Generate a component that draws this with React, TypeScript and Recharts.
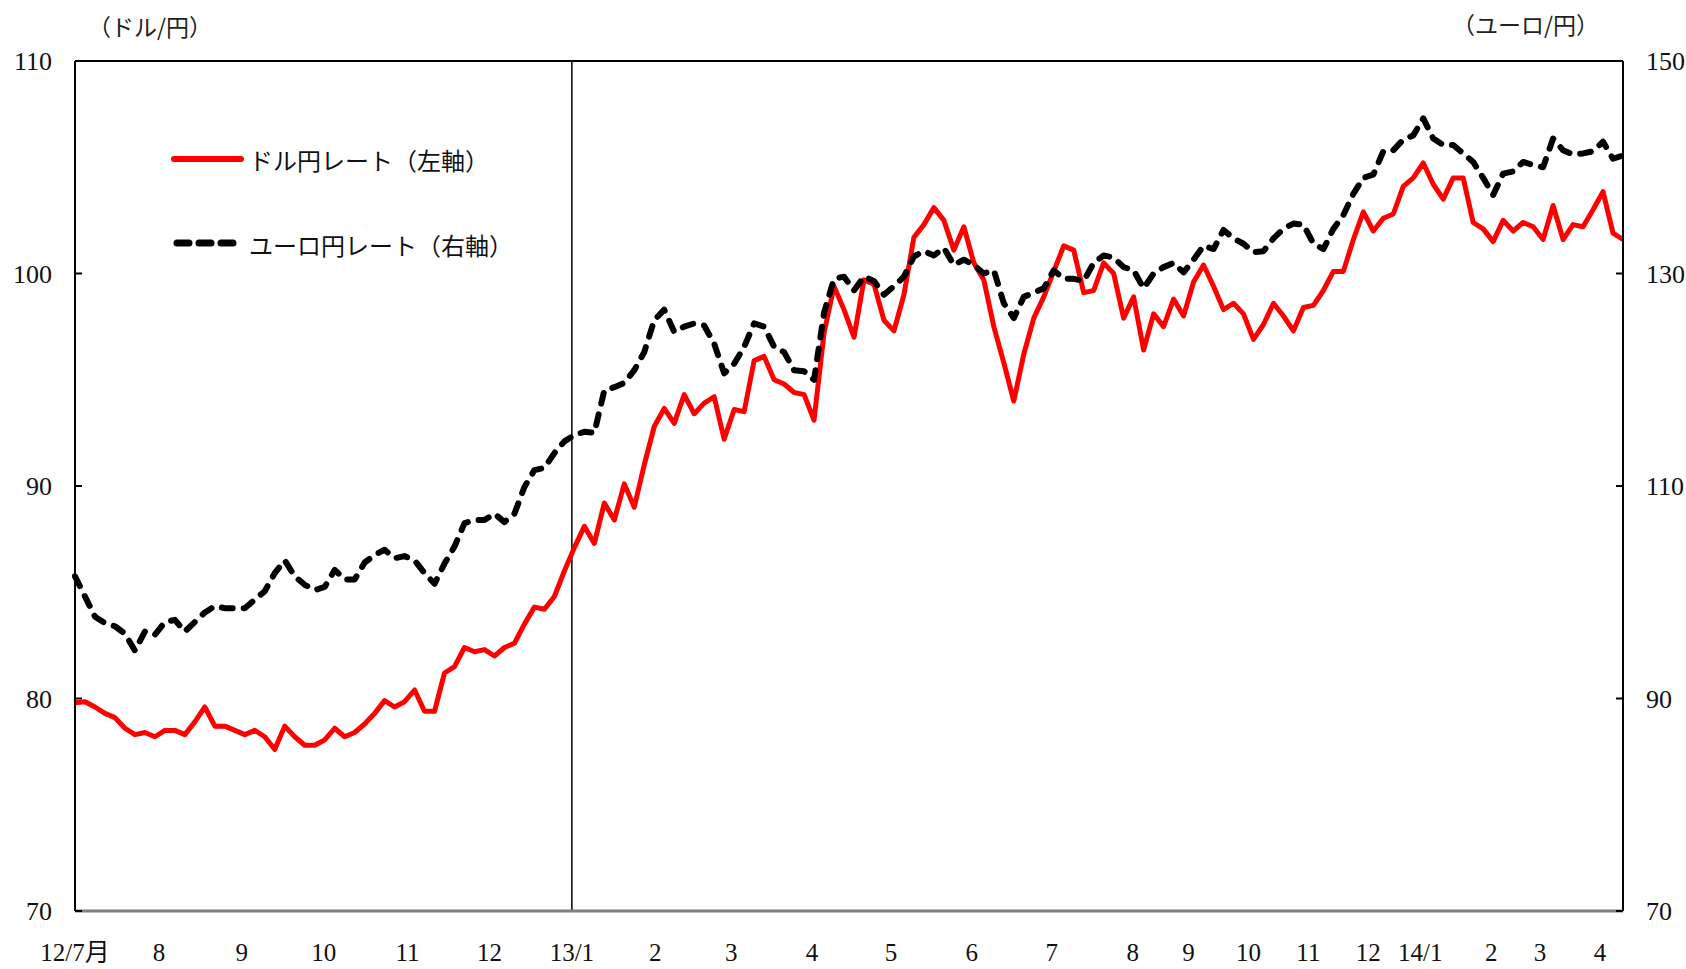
import React from 'react';
import { LineChart, Line, XAxis, YAxis, ReferenceLine } from 'recharts';

// ドル円レート（左軸） sampled evenly across the period
const usdJpy = [
  79.8, 79.85, 79.6, 79.3, 79.1, 78.6, 78.3, 78.4, 78.2, 78.5,
  78.5, 78.3, 78.9, 79.6, 78.7, 78.7, 78.5, 78.3, 78.5, 78.2,
  77.6, 78.7, 78.2, 77.8, 77.8, 78.05, 78.6, 78.2, 78.4, 78.8,
  79.3, 79.9, 79.6, 79.85, 80.4, 79.4, 79.4, 81.2, 81.5, 82.4,
  82.2, 82.3, 82.0, 82.4, 82.6, 83.5, 84.3, 84.2, 84.8, 86.0,
  87.1, 88.1, 87.3, 89.2, 88.4, 90.1, 89.0, 91.0, 92.8, 93.65,
  92.95, 94.3, 93.4, 93.9, 94.2, 92.2, 93.6, 93.5, 95.9, 96.1,
  95.0, 94.8, 94.4, 94.3, 93.1, 97.2, 99.4, 98.3, 97.0, 99.7,
  99.5, 97.8, 97.3, 99.0, 101.7, 102.3, 103.1, 102.5, 101.1, 102.2,
  100.5, 99.7, 97.5, 95.8, 94.0, 96.2, 97.9, 98.9, 100.1, 101.3,
  101.1, 99.1, 99.2, 100.5, 100.0, 97.9, 98.9, 96.4, 98.1, 97.5,
  98.8, 98.0, 99.6, 100.4, 99.4, 98.3, 98.6, 98.1, 96.9, 97.6,
  98.6, 98.0, 97.3, 98.4, 98.5, 99.2, 100.1, 100.1, 101.6, 102.9,
  102.0, 102.6, 102.8, 104.1, 104.5, 105.2, 104.2, 103.5, 104.5, 104.5,
  102.4, 102.1, 101.5, 102.5, 102.0, 102.4, 102.2, 101.6, 103.2, 101.6,
  102.3, 102.2, 103.0, 103.85, 101.9, 101.6,
];

// ユーロ円レート（右軸）
const eurJpy = [
  101.5, 99.6, 97.7, 97.1, 96.8, 96.1, 94.5, 96.3, 96.0, 97.2,
  97.4, 96.3, 97.2, 98.1, 98.7, 98.5, 98.5, 98.5, 99.3, 100.1,
  101.8, 103.0, 101.5, 100.7, 100.2, 100.5, 102.1, 101.2, 101.2, 102.8,
  103.5, 104.0, 103.2, 103.4, 103.0, 101.8, 100.8, 102.7, 104.3, 106.5,
  106.8, 106.8, 107.4, 106.6, 107.4, 109.9, 111.5, 111.7, 113.1, 114.2,
  114.8, 115.1, 115.0, 119.0, 119.3, 119.7, 120.9, 122.6, 125.6, 126.6,
  124.5, 125.0, 125.3, 125.1, 123.4, 120.6, 121.5, 123.1, 125.3, 125.0,
  123.1, 122.6, 120.9, 120.8, 120.0, 126.3, 129.5, 129.7, 128.4, 129.7,
  129.3, 128.0, 128.8, 129.7, 131.6, 132.1, 131.7, 132.4, 130.8, 131.3,
  130.8, 130.0, 130.3, 127.2, 125.8, 127.8, 128.2, 128.6, 130.3, 129.5,
  129.5, 129.3, 131.0, 131.7, 131.5, 130.6, 130.3, 128.6, 130.0, 130.6,
  131.0, 130.1, 131.3, 132.6, 132.3, 134.1, 133.3, 132.8, 132.0, 132.1,
  133.3, 134.2, 134.7, 134.6, 132.8, 132.3, 134.2, 135.5, 137.5, 139.0,
  139.3, 141.5, 141.6, 142.6, 143.0, 144.6, 142.7, 142.1, 142.1, 141.3,
  140.5, 139.0, 137.4, 139.4, 139.6, 140.5, 140.2, 140.0, 142.7, 141.6,
  141.2, 141.3, 141.5, 142.4, 140.8, 141.1,
];

// month label positions (in sample-index units) and texts
const monthTickPos = [0, 8.4, 16.7, 24.9, 33.3, 41.5, 49.75, 58.1, 65.7, 73.8, 81.7, 89.8, 97.8, 105.9, 111.5, 117.5, 123.5, 129.5, 134.7, 141.8, 146.7, 152.7];
const monthTickLabels = ['12/7月', '8', '9', '10', '11', '12', '13/1', '2', '3', '4', '5', '6', '7', '8', '9', '10', '11', '12', '14/1', '2', '3', '4'];
const leftTicks = [70, 80, 90, 100, 110];
const rightTicks = [70, 90, 110, 130, 150];

const data = usdJpy.map((v, i) => ({ d: i, usd: v, eur: eurJpy[i] }));

const NUM_FONT = "'Liberation Serif', 'Noto Sans CJK JP', serif";
const JP_FONT = "'Noto Sans CJK JP', 'Liberation Serif', sans-serif";

const tickStyle = { fontSize: 26, fontFamily: NUM_FONT, fill: '#111' };

export default function App() {
  return (
    <div style={{ position: 'absolute', left: 0, top: 0, width: 1686, height: 969, background: '#fff' }}>
      <LineChart width={1686} height={969} data={data} margin={{ top: 61, right: 0, bottom: 0, left: 0 }}>
        <XAxis
          dataKey="d"
          type="number"
          domain={[0, 155]}
          ticks={monthTickPos}
          interval={0}
          tickFormatter={(v: number) => monthTickLabels[monthTickPos.indexOf(v)] ?? ''}
          height={58}
          tickLine={false}
          tickSize={6}
          tickMargin={26}
          axisLine={{ stroke: '#808080', strokeWidth: 3 }}
          tick={{ ...tickStyle, fontSize: 25 }}
        />
        <YAxis
          yAxisId="left"
          orientation="left"
          domain={[70, 110]}
          ticks={leftTicks}
          interval={0}
          width={75}
          tickSize={-7}
          tickMargin={30}
          axisLine={{ stroke: '#000', strokeWidth: 2 }}
          tickLine={{ stroke: '#000', strokeWidth: 2 }}
          tick={tickStyle}
        />
        <YAxis
          yAxisId="right"
          orientation="right"
          domain={[70, 150]}
          ticks={rightTicks}
          interval={0}
          width={63}
          tickSize={-7}
          tickMargin={30}
          axisLine={{ stroke: '#000', strokeWidth: 2 }}
          tickLine={{ stroke: '#000', strokeWidth: 2 }}
          tick={{ ...tickStyle, textAnchor: 'start' }}
        />
        <ReferenceLine yAxisId="left" y={110} stroke="#000" strokeWidth={2} />
        <ReferenceLine yAxisId="left" x={monthTickPos[6]} stroke="#000" strokeWidth={1.5} />
        <Line
          yAxisId="left"
          dataKey="usd"
          type="linear"
          stroke="#ff0000"
          strokeWidth={5}
          strokeLinejoin="round"
          dot={false}
          activeDot={false}
          isAnimationActive={false}
        />
        <Line
          yAxisId="right"
          dataKey="eur"
          type="linear"
          stroke="#000"
          strokeWidth={6}
          strokeDasharray="11 11"
          strokeLinecap="round"
          strokeLinejoin="round"
          dot={false}
          activeDot={false}
          isAnimationActive={false}
        />
      </LineChart>

      <div style={{ position: 'absolute', left: 88, top: 11, fontSize: 23, lineHeight: '30px', fontFamily: JP_FONT, color: '#222', whiteSpace: 'nowrap' }}>
        （ドル/円）
      </div>
      <div style={{ position: 'absolute', left: 1452, top: 9, fontSize: 23, lineHeight: '30px', fontFamily: JP_FONT, color: '#222', whiteSpace: 'nowrap' }}>
        （ユーロ/円）
      </div>

      <svg style={{ position: 'absolute', left: 168, top: 145, overflow: 'visible' }} width={80} height={110}>
        <line x1={6} y1={14} x2={73} y2={14} stroke="#ff0000" strokeWidth={6} strokeLinecap="round" />
        <line x1={9} y1={98} x2={70} y2={98} stroke="#000" strokeWidth={7} strokeLinecap="round" strokeDasharray="12 10" />
      </svg>
      <div style={{ position: 'absolute', left: 249, top: 144, fontSize: 24, lineHeight: '32px', fontFamily: JP_FONT, color: '#111', whiteSpace: 'nowrap' }}>
        ドル円レート（左軸）
      </div>
      <div style={{ position: 'absolute', left: 249, top: 229, fontSize: 24, lineHeight: '32px', fontFamily: JP_FONT, color: '#111', whiteSpace: 'nowrap' }}>
        ユーロ円レート（右軸）
      </div>
    </div>
  );
}
